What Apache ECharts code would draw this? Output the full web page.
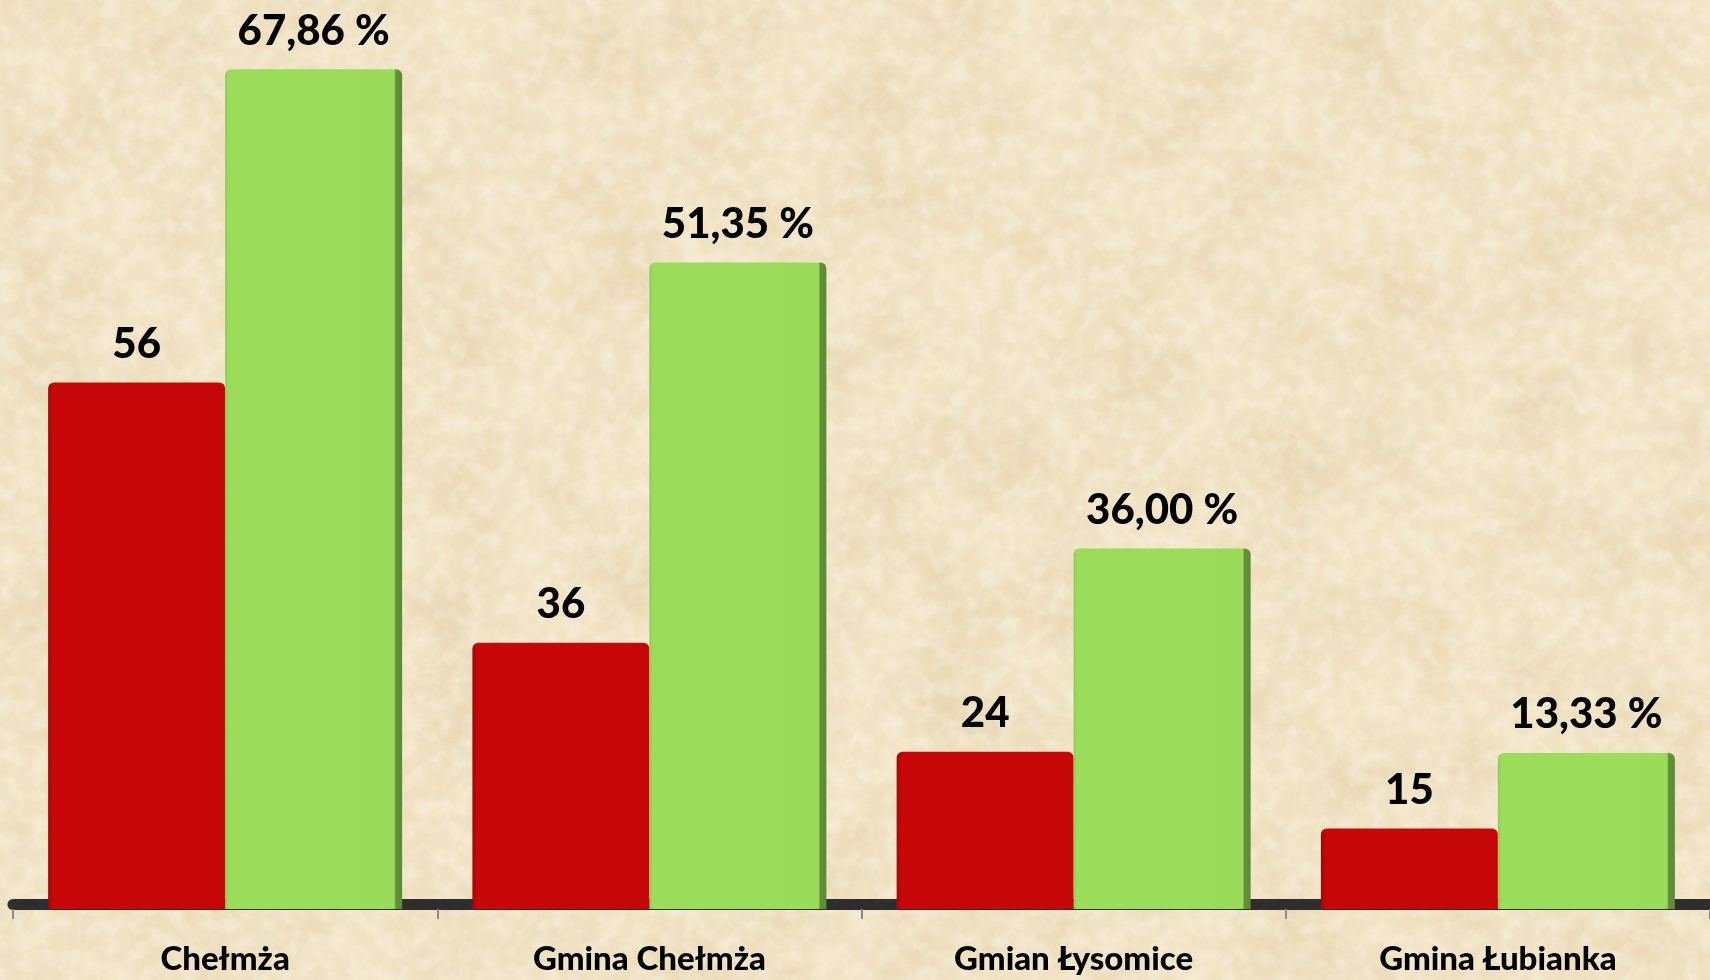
<!DOCTYPE html>
<html>
<head>
    <meta charset="utf-8">
    <title>Chełmża i gminy</title>
    <script src="https://cdn.jsdelivr.net/npm/echarts@6/dist/echarts.min.js"></script>
    <style>
        html, body { margin: 0; padding: 0; }
        body {
            width: 1710px; height: 980px; overflow: hidden;
            background-color: #f1e3c5;
        }
    </style>
</head>
<body>
    <div id="main" style="width: 1710px;height:980px;"></div>
    <script type="text/javascript">
        // kategorie
        var categories = ['Chełmża', 'Gmina Chełmża', 'Gmian Łysomice', 'Gmina Łubianka'];
        // etykiety nad słupkami
        var redLabels = ['56', '36', '24', '15'];
        var greenLabels = ['67,86 %', '51,35 %', '36,00 %', '13,33 %'];
        // wysokości słupków (jednostki osi)
        var redHeights = [42.5, 21.5, 12.7, 6.5];
        var greenHeights = [67.8, 52.2, 29.1, 12.6];

        // tło w stylu pergaminu (szum svg)
        var noise = "<svg xmlns='http://www.w3.org/2000/svg' width='1710' height='980'>" +
            "<filter id='n'><feTurbulence type='fractalNoise' baseFrequency='0.012' numOctaves='5' seed='7'/>" +
            "<feColorMatrix values='0 0 0 0 0.7  0 0 0 0 0.55  0 0 0 0 0.32  0.75 0 0 0 -0.28'/></filter>" +
            "<filter id='m'><feTurbulence type='fractalNoise' baseFrequency='0.06' numOctaves='3' seed='2'/>" +
            "<feColorMatrix values='0 0 0 0 1  0 0 0 0 0.97  0 0 0 0 0.88  0 0.8 0 0 -0.3'/></filter>" +
            "<rect width='100%' height='100%' filter='url(#n)'/>" +
            "<rect width='100%' height='100%' filter='url(#m)'/></svg>";
        document.body.style.backgroundImage = 'url("data:image/svg+xml;utf8,' + encodeURIComponent(noise) + '")';

        var myChart = echarts.init(document.getElementById('main'));

        var labelFont = {
            show: true,
            position: 'top',
            distance: 17,
            color: '#000',
            fontFamily: 'Lato',
            fontWeight: 900,
            fontSize: 42
        };

        var option = {
            backgroundColor: 'transparent',
            animation: false,
            grid: { left: 13, right: -13, top: 42, bottom: 71 },
            xAxis: [{
                type: 'category',
                data: categories,
                offset: 5,
                axisLine: { lineStyle: { color: '#8a8a8a', width: 2 } },
                axisTick: { show: true, length: 10, lineStyle: { color: '#8a8a8a', width: 2 } },
                axisLabel: {
                    color: '#000', fontFamily: 'Lato', fontWeight: 900,
                    fontSize: 33, margin: 29
                }
            }, {
                // ciemna "podłoga" pod słupkami
                type: 'category',
                data: categories,
                position: 'bottom',
                offset: -5,
                axisLine: { lineStyle: { color: '#2e2e2e', width: 11 } },
                axisTick: { show: false },
                axisLabel: { show: false }
            }],
            yAxis: {
                type: 'value', min: 0, max: 70, show: false,
                splitLine: { show: false }
            },
            series: [{
                type: 'bar',
                data: redHeights,
                barWidth: 177,
                barGap: '0%',
                itemStyle: {
                    borderRadius: [6, 6, 0, 0],
                    color: new echarts.graphic.LinearGradient(0, 0, 1, 0, [
                        { offset: 0, color: '#a80404' },
                        { offset: 0.03, color: '#c80808' },
                        { offset: 1, color: '#c60707' }
                    ])
                },
                label: Object.assign({}, labelFont, {
                    formatter: function (p) { return redLabels[p.dataIndex]; }
                })
            }, {
                type: 'bar',
                data: greenHeights,
                barWidth: 177,
                itemStyle: {
                    borderRadius: [6, 6, 0, 0],
                    color: new echarts.graphic.LinearGradient(0, 0, 1, 0, [
                        { offset: 0, color: '#8ccc50' },
                        { offset: 0.02, color: '#9cdc5b' },
                        { offset: 0.955, color: '#9bdb5a' },
                        { offset: 0.965, color: '#63903a' },
                        { offset: 1, color: '#5e8a36' }
                    ])
                },
                label: Object.assign({}, labelFont, {
                    formatter: function (p) { return greenLabels[p.dataIndex]; }
                })
            }]
        };

        myChart.setOption(option);
    </script>
</body>
</html>
